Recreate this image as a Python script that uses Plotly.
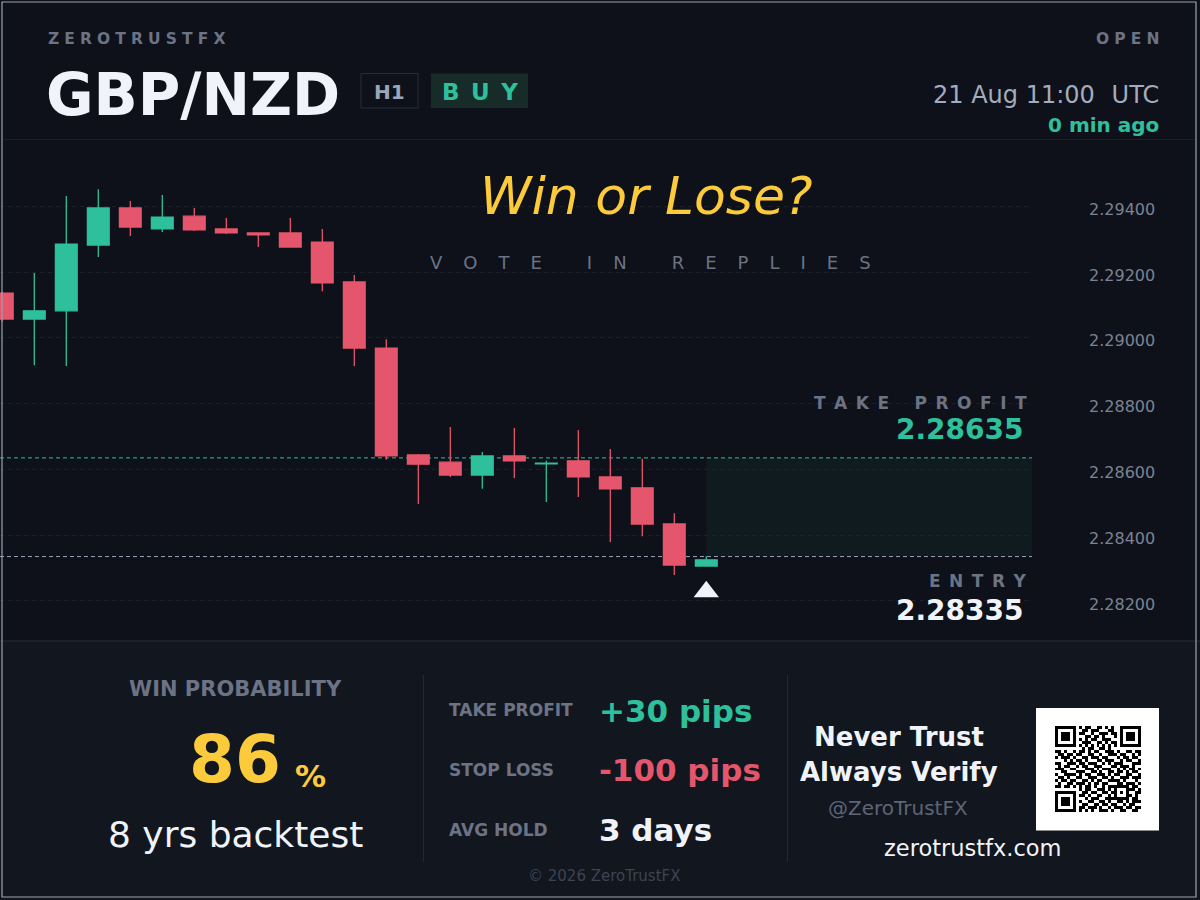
import plotly.graph_objects as go

# ---------------- data ----------------
candle_idx = list(range(23))
opens = [2.29136, 2.29057, 2.29082, 2.29282, 2.29395, 2.29331, 2.29370, 2.29331, 2.29319, 2.29319,
         2.29291, 2.29170, 2.28969, 2.28644, 2.28622, 2.28583, 2.28641, 2.28617, 2.28626, 2.28577,
         2.28544, 2.28434, 2.28306]
highs = [2.29140, 2.29197, 2.29431, 2.29452, 2.29416, 2.29434, 2.29395, 2.29364, 2.29319, 2.29364,
         2.29331, 2.29191, 2.28996, 2.28647, 2.28729, 2.28653, 2.28726, 2.28626, 2.28720, 2.28662,
         2.28632, 2.28467, 2.28336]
lows = [2.29050, 2.28917, 2.28914, 2.29246, 2.29310, 2.29322, 2.29325, 2.29316, 2.29276, 2.29276,
        2.29142, 2.28914, 2.28629, 2.28495, 2.28577, 2.28541, 2.28574, 2.28501, 2.28516, 2.28379,
        2.28397, 2.28279, 2.28306]
closes = [2.29057, 2.29082, 2.29285, 2.29395, 2.29337, 2.29367, 2.29328, 2.29319, 2.29313, 2.29276,
          2.29167, 2.28969, 2.28641, 2.28616, 2.28583, 2.28641, 2.28626, 2.28619, 2.28577, 2.28541,
          2.28434, 2.28309, 2.28325]

price_ticks = [2.282, 2.284, 2.286, 2.288, 2.290, 2.292, 2.294]
tick_labels = [f"{v:.5f}" for v in price_ticks]

pair = "GBP/NZD"
timeframe = "H1"
direction = "BUY"
brand = "ZEROTRUSTFX"
status = "OPEN"
timestamp = "21 Aug 11:00\u2002\u2009UTC"
age = "0 min ago"
entry_price = 2.28335
tp_price = 2.28635
win_prob = 86
backtest_years = 8
tp_pips = 30
sl_pips = 100
avg_hold_days = 3

qr_rows = [
    "1111111" + "0" + "1011001101010" + "0" + "1111111",
    "1000001" + "0" + "0110111000110" + "0" + "1000001",
    "1011101" + "0" + "1100100111011" + "0" + "1011101",
    "1011101" + "0" + "0011011010001" + "0" + "1011101",
    "1011101" + "0" + "1010110011100" + "0" + "1011101",
    "1000001" + "0" + "0111001101011" + "0" + "1000001",
    "1111111" + "0" + "1010101010101" + "0" + "1111111",
    "0000000" + "0" + "0101100110100" + "0" + "0000000",
    "110100" + "1" + "0110101100111010011011",
    "011011" + "0" + "1100110010011101100101",
    "101110" + "1" + "0011011101100010110110",
    "000101" + "0" + "1101000110111001011001",
    "110011" + "1" + "0110111001010111000111",
    "010110" + "0" + "1011001110001101110100",
    "111001" + "1" + "0001110101110010101101",
    "001100" + "0" + "1110011010011011010110",
    "100111" + "1" + "0101100111010110011001",
    "011010" + "0" + "1100111001101001110111",
    "101101" + "1" + "0011010110011110100010",
    "010011" + "0" + "1110101101100011011101",
    "110110" + "1" + "0101101001011" + "11111" + "0110",
    "00000000" + "101100111010" + "10001" + "1101",
    "1111111" + "0" + "011011001101" + "10101" + "0011",
    "1000001" + "0" + "110100110010" + "10001" + "1010",
    "1011101" + "0" + "001011100111" + "11111" + "0110",
    "1011101" + "0" + "100110011010011010111",
    "1011101" + "0" + "011001101101100101100",
    "1000001" + "0" + "110111010010111011011",
    "1111111" + "0" + "101010011101001100110",
]
qr_matrix = [[int(c) for c in row] for row in qr_rows]

# ---------------- style ----------------
W, H = 1200, 900
BG = "#0e1119"
PANEL = "#12161f"
GREEN = "#2ec09c"
RED = "#e5566c"
WHITE = "#f0f4fa"
GRAY = "#6b7385"
YELLOW = "#fccb3b"
TICK = "#7b8394"
DATEGRAY = "#a3acbe"
FONT = "DejaVu Sans"

def px(x):
    return x / W

def py(y):
    return 1 - y / H

def spaced(s, sep, wordsep):
    return wordsep.join(sep.join(w) for w in s.split(" "))

# chart area in pixels
CH_L, CH_R, CH_T, CH_B = 0, 1032, 140, 640
x_range = [-0.072, 32.178]
y_range = [2.280813, 2.296015]

fig = go.Figure()

fig.add_trace(go.Candlestick(
    x=candle_idx, open=opens, high=highs, low=lows, close=closes,
    increasing=dict(line=dict(color=GREEN, width=1.3), fillcolor=GREEN),
    decreasing=dict(line=dict(color=RED, width=1.3), fillcolor=RED),
    whiskerwidth=0, hoverinfo="skip", showlegend=False,
    xaxis="x", yaxis="y",
))

# entry marker under last candle
fig.add_trace(go.Scatter(
    x=[candle_idx[-1]], y=[lows[-1] - 0.00078], mode="markers",
    marker=dict(symbol="triangle-up", size=22, color=WHITE, line=dict(width=0)),
    hoverinfo="skip", showlegend=False, xaxis="x", yaxis="y",
))

# QR code
fig.add_trace(go.Heatmap(
    z=qr_matrix, colorscale=[[0, "#ffffff"], [1, "#000000"]], zmin=0, zmax=1,
    showscale=False, hoverinfo="skip", xaxis="x2", yaxis="y2", xgap=0, ygap=0,
))

shapes = []
shapes.append(dict(type="rect", xref="paper", yref="paper", x0=0, x1=1, y0=0, y1=py(641),
                   fillcolor=PANEL, line=dict(width=0), layer="below"))
shapes.append(dict(type="line", xref="paper", yref="paper", x0=px(3), x1=px(1195), y0=py(139.5), y1=py(139.5),
                   line=dict(color="#1b202b", width=1), layer="below"))
shapes.append(dict(type="line", xref="paper", yref="paper", x0=0, x1=1, y0=py(641), y1=py(641),
                   line=dict(color="#262c38", width=1.2), layer="below"))
shapes.append(dict(type="rect", xref="x", yref="y", x0=candle_idx[-1], x1=x_range[1], y0=entry_price, y1=tp_price,
                   fillcolor="rgba(46,192,156,0.055)", line=dict(width=0), layer="below"))
shapes.append(dict(type="line", xref="x domain", yref="y", x0=0, x1=1, y0=tp_price, y1=tp_price,
                   line=dict(color=GREEN, width=1, dash="4px,3px"), layer="below"))
shapes.append(dict(type="line", xref="x domain", yref="y", x0=0, x1=1, y0=entry_price, y1=entry_price,
                   line=dict(color="#9aa3b5", width=1, dash="4px,3px"), layer="below"))
shapes.append(dict(type="rect", xref="paper", yref="paper", x0=px(361), x1=px(418), y0=py(108), y1=py(73.5),
                   fillcolor=BG, line=dict(color="#262c3a", width=1)))
shapes.append(dict(type="rect", xref="paper", yref="paper", x0=px(431), x1=px(528), y0=py(108), y1=py(73.5),
                   fillcolor="#172c29", line=dict(width=0)))
shapes.append(dict(type="line", xref="paper", yref="paper", x0=px(423.5), x1=px(423.5), y0=py(675), y1=py(862),
                   line=dict(color="#222835", width=1)))
shapes.append(dict(type="line", xref="paper", yref="paper", x0=px(787.5), x1=px(787.5), y0=py(675), y1=py(862),
                   line=dict(color="#222835", width=1)))
shapes.append(dict(type="rect", xref="paper", yref="paper", x0=px(1036), x1=px(1159), y0=py(830.5), y1=py(708),
                   fillcolor="#ffffff", line=dict(width=0), layer="below"))
shapes.append(dict(type="rect", xref="paper", yref="paper", x0=px(2), x1=px(1196), y0=py(897), y1=py(2),
                   fillcolor="rgba(0,0,0,0)", line=dict(color="#9aa2b1", width=1.2)))

ann = []

def text(x, y, s, size, color, anchor="left", bold=False, italic=False, family=FONT):
    ann.append(dict(xref="paper", yref="paper", x=px(x), y=py(y), text=s, showarrow=False,
                    xanchor=anchor, yanchor="middle",
                    font=dict(family=family, size=size, color=color,
                              weight="bold" if bold else "normal",
                              style="italic" if italic else "normal")))

# header
text(46, 39, spaced(brand, "\u2004", "\u2002"), 15.5, GRAY, bold=True)
text(1161, 39, spaced(status, "\u2004", "\u2002"), 15.5, GRAY, anchor="right", bold=True)
text(44, 95, pair, 58, WHITE, bold=True)
text(389.5, 91.5, timeframe, 20, "#9aa5ba", anchor="center", bold=True)
text(480, 91.5, spaced(direction, "\u2002", "\u2003"), 23, GREEN, anchor="center", bold=True)
text(1161, 95, timestamp, 24, DATEGRAY, anchor="right")
text(1161, 125, age, 20, GREEN, anchor="right", bold=True)

# chart overlays
text(646, 196, "Win or Lose?", 52, YELLOW, anchor="center", italic=True)
text(650, 262, spaced("VOTE IN REPLIES", "\u2003\u2006", "\u2003\u2003\u2002"), 18, GRAY, anchor="center")
text(1029, 403, spaced("TAKE PROFIT", "\u2002", "\u2002\u2002\u2002"), 17, GRAY, anchor="right", bold=True)
text(1026, 429, f"{tp_price:.5f}", 28, GREEN, anchor="right", bold=True)
text(1029, 581, spaced("ENTRY", "\u2002", "\u2002"), 17, GRAY, anchor="right", bold=True)
text(1026, 610, f"{entry_price:.5f}", 28, WHITE, anchor="right", bold=True)

# bottom panel
text(235, 689, "WIN PROBABILITY", 21, GRAY, anchor="center", bold=True)
text(235, 759, f"{win_prob}", 66, YELLOW, anchor="center", bold=True)
text(293, 776, "%", 31, YELLOW, anchor="left", bold=True)
text(235, 834, f"{backtest_years} yrs backtest", 36, WHITE, anchor="center")

text(447, 710, "TAKE PROFIT", 17, GRAY, bold=True)
text(597, 711, f"+{tp_pips} pips", 31, GREEN, bold=True)
text(447, 770, "STOP LOSS", 17, GRAY, bold=True)
text(597, 770, f"-{sl_pips} pips", 31, RED, bold=True)
text(447, 830, "AVG HOLD", 17, GRAY, bold=True)
text(597, 830, f"{avg_hold_days} days", 31, WHITE, bold=True)

text(899, 737, "Never Trust", 26, WHITE, anchor="center", bold=True)
text(899, 772, "Always Verify", 26, WHITE, anchor="center", bold=True)
text(898, 808, "@ZeroTrustFX", 20, "#5d6577", anchor="center")
text(973, 848, "zerotrustfx.com", 22.5, WHITE, anchor="center")
text(604, 876, "\u00a9 2026 ZeroTrustFX", 15, "#3d4452", anchor="center")

fig.update_layout(
    width=W, height=H, autosize=False,
    margin=dict(l=0, r=0, t=0, b=0),
    paper_bgcolor=BG, plot_bgcolor=BG,
    showlegend=False,
    boxgap=0.32, boxgroupgap=0,
    shapes=shapes, annotations=ann,
    xaxis=dict(domain=[px(CH_L), px(CH_R)], range=x_range, showgrid=False, zeroline=False,
               showticklabels=False, showline=False, ticks="", rangeslider=dict(visible=False),
               fixedrange=True),
    yaxis=dict(domain=[py(CH_B), py(CH_T)], range=y_range, side="right",
               tickvals=price_ticks, ticktext=tick_labels, ticks="",
               ticklabelstandoff=56, ticklabelshift=3,
               tickfont=dict(family=FONT, size=16, color=TICK),
               showgrid=True, gridcolor="#1c2029", griddash="4px,4px", gridwidth=1,
               zeroline=False, showline=False, fixedrange=True),
    xaxis2=dict(domain=[px(1055), px(1141)], range=[-0.5, 28.5], visible=False, anchor="y2"),
    yaxis2=dict(domain=[py(812), py(726)], range=[28.5, -0.5], visible=False, anchor="x2"),
)

fig.write_html("out.html", config={"displayModeBar": False},
               post_script="document.body.style.margin='0';document.body.style.overflow='hidden';")
